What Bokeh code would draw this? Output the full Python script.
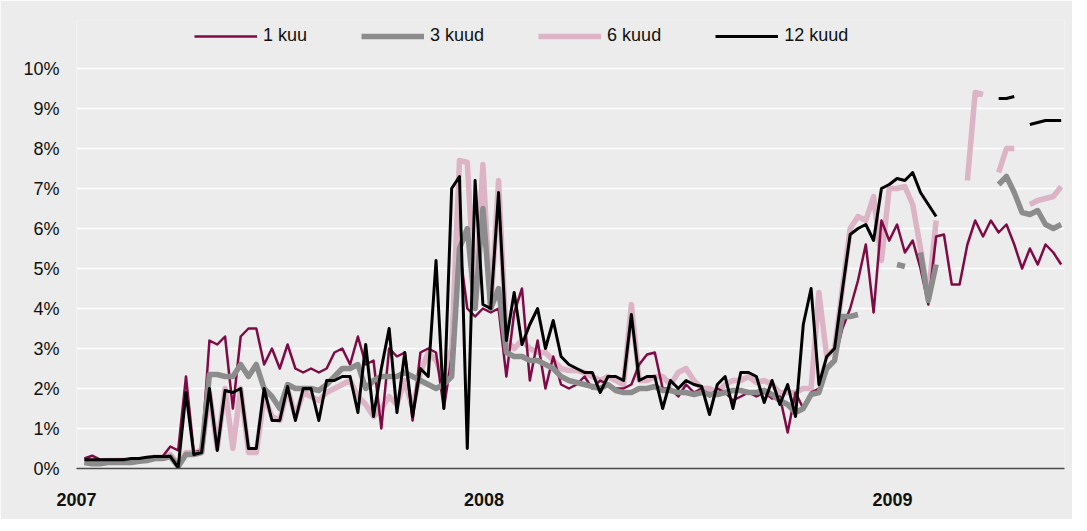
import pandas as pd
from bokeh.plotting import figure
from bokeh.models import (ColumnDataSource, FixedTicker, Legend, LegendItem, Range1d,
                          CustomJSTickFormatter)
from bokeh.embed import file_html
from bokeh.resources import INLINE

nan = float("nan")

dates = pd.date_range("2007-01-08", periods=126, freq="7D")

kuu1 = [0.25, 0.32, 0.22, 0.22, 0.22, 0.23, 0.22, 0.25, 0.25, 0.28,
        0.3, 0.55, 0.45, 2.3, 0.4, 0.45, 3.2, 3.1, 3.3, 1.5,
        3.3, 3.5, 3.5, 2.6, 3.0, 2.5, 3.1, 2.5, 2.4, 2.5,
        2.4, 2.5, 2.9, 3.0, 2.6, 3.3, 2.6, 2.7, 1.0, 3.0,
        2.8, 2.9, 1.2, 2.9, 3.0, 2.9, 1.5, 2.8, 5.5, 4.0,
        3.8, 4.0, 3.9, 4.0, 2.3, 3.9, 4.5, 2.2, 3.2, 2.0,
        2.8, 2.1, 2.0, 2.1, 2.3, 2.0, 2.2, 2.1, 2.0, 2.0,
        2.1, 2.6, 2.85, 2.9, 2.0, 2.0, 1.8, 2.1, 1.9, 2.0,
        1.8, 2.0, 1.9, 1.7, 1.8, 1.9, 1.8, 1.9, 1.75, 1.8,
        0.9, 1.9, 1.5, 1.9, 2.0, 2.5, 2.7, 3.5, 4.0, 4.7,
        5.6, 3.9, 6.2, 5.7, 6.1, 5.4, 5.7, 5.0, 4.1, 5.8,
        5.85, 4.6, 4.6, 5.6, 6.2, 5.8, 6.2, 5.9, 6.1, 5.6,
        5.0, 5.5, 5.1, 5.6, 5.4, 5.1]

kuud3 = [0.15, 0.12, 0.12, 0.15, 0.15, 0.15, 0.15, 0.18, 0.2, 0.25,
         0.25, 0.3, 0.05, 0.35, 0.35, 0.4, 2.35, 2.35, 2.3, 2.3,
         2.6, 2.3, 2.6, 2.0, 1.8, 1.5, 2.1, 2.0, 2.0, 2.0,
         1.95, 2.1, 2.3, 2.5, 2.5, 2.6, 2.0, 2.2, 2.3, 2.3,
         2.3, 2.4, 2.3, 2.2, 2.1, 2.0, 2.1, 2.3, 5.5, 6.0,
         4.0, 6.5, 4.0, 4.5, 2.9, 2.8, 2.8, 2.7, 2.7, 2.6,
         2.5, 2.3, 2.2, 2.15, 2.1, 2.05, 2.0, 2.1, 1.95, 1.9,
         1.9, 2.0, 2.0, 2.05, 1.95, 1.95, 1.9, 1.9, 1.85, 1.9,
         1.85, 1.85, 1.9, 1.95, 1.95, 1.9, 1.9, 1.95, 1.85, 1.7,
         1.6, 1.4, 1.5, 1.85, 1.9, 2.5, 2.7, 3.8, 3.8, 3.85,
         nan, nan, nan, nan, 5.1, 5.05, nan, 5.4, 4.2, 5.1,
         nan, nan, nan, nan, nan, nan, nan, 7.1, 7.3, 6.9,
         6.4, 6.35, 6.45, 6.1, 6.0, 6.1]

kuud6 = [0.2, 0.18, 0.18, 0.2, 0.2, 0.2, 0.2, 0.22, 0.25, 0.28,
         0.28, 0.35, 0.1, 0.4, 0.4, 0.45, 1.9, 0.5, 2.0, 0.5,
         2.0, 0.4, 0.4, 1.8, 1.3, 1.2, 2.0, 1.3, 1.9, 1.8,
         1.7, 1.9, 2.0, 2.1, 2.2, 1.8, 1.6, 1.3, 1.5, 1.8,
         1.6, 2.2, 1.5, 2.4, 2.9, 2.7, 2.2, 3.0, 7.7, 7.65,
         4.2, 7.6, 4.0, 7.2, 3.2, 3.0, 3.2, 3.0, 2.9, 2.9,
         2.7, 2.5, 2.45, 2.45, 2.4, 2.3, 2.2, 2.3, 2.2, 2.1,
         4.1, 2.2, 2.2, 2.3, 2.3, 2.1, 2.4, 2.5, 2.2, 2.0,
         2.0, 1.9, 2.1, 2.2, 2.2, 2.3, 2.15, 2.2, 2.1, 1.9,
         1.9, 1.9, 2.0, 2.0, 4.4, 2.8, 3.0, 4.5, 6.0, 6.3,
         6.2, 6.8, 5.2, 7.0, 7.0, 7.05, 6.6, 5.5, 4.3, 6.2,
         nan, nan, nan, 7.2, 9.4, 9.35, nan, 7.4, 8.0, 8.0,
         nan, 6.6, 6.7, 6.75, 6.8, 7.05]

kuud12 = [0.22, 0.22, 0.22, 0.22, 0.22, 0.22, 0.25, 0.25, 0.28, 0.3,
          0.3, 0.3, 0.02, 1.9, 0.35, 0.4, 2.0, 0.45, 1.95, 1.9,
          2.0, 0.5, 0.5, 2.0, 1.2, 1.2, 2.05, 1.2, 2.0, 2.0,
          1.2, 2.2, 2.2, 2.3, 2.3, 1.4, 3.1, 1.3, 2.5, 3.5,
          1.4, 2.9, 1.3, 2.5, 2.3, 5.2, 1.5, 7.0, 7.3, 0.5,
          7.2, 4.1, 4.0, 6.9, 3.2, 4.4, 3.1, 3.6, 4.0, 3.0,
          3.7, 2.8, 2.6, 2.5, 2.4, 2.4, 1.9, 2.3, 2.3, 2.2,
          3.85, 2.2, 2.3, 2.3, 1.5, 2.2, 2.0, 2.2, 2.1, 2.05,
          1.35, 2.1, 2.3, 1.5, 2.4, 2.4, 2.3, 1.65, 2.2, 1.6,
          2.1, 1.3, 3.6, 4.5, 2.1, 2.8, 3.0, 4.45, 5.85, 6.0,
          6.1, 5.7, 7.0, 7.1, 7.25, 7.2, 7.4, 6.9, 6.6, 6.3,
          nan, nan, nan, nan, nan, nan, nan, 9.25, 9.25, 9.3,
          nan, 8.6, 8.65, 8.7, 8.7, 8.7]

series_labels = ["1 kuu", "3 kuud", "6 kuud", "12 kuud"]
series_colors = ["#7f0a46", "#8c8c8c", "#dcb4c6", "#000000"]
year_ticks = ["2007-01-01", "2008-01-01", "2009-01-01"]
pct_ticks = [0, 1, 2, 3, 4, 5, 6, 7, 8, 9, 10]

FONT = "Liberation Sans"
BG = "#ebeceb"

src = ColumnDataSource(dict(date=dates, k1=kuu1, k3=kuud3, k6=kuud6, k12=kuud12))

x_start = pd.Timestamp("2007-01-01") - pd.Timedelta(hours=2)
x_end = pd.Timestamp("2009-06-04")

p = figure(width=1072, height=519, x_axis_type="datetime",
           x_range=Range1d(x_start, x_end), y_range=Range1d(0, 11.2),
           output_backend="svg", toolbar_location=None,
           min_border_left=76, min_border_right=8, min_border_top=20, min_border_bottom=51)
p.background_fill_color = BG
p.border_fill_color = BG
p.outline_line_color = None

# draw order: 6 kuud, 1 kuu, 3 kuud, 12 kuud
r6 = p.line("date", "k6", source=src, color=series_colors[2], line_width=5.5, line_join="round")
r1 = p.line("date", "k1", source=src, color=series_colors[0], line_width=2.5, line_join="round")
r3 = p.line("date", "k3", source=src, color=series_colors[1], line_width=5.5, line_join="round")
r12 = p.line("date", "k12", source=src, color=series_colors[3], line_width=3, line_join="round")

# axes
xa = p.xaxis[0]
xa.ticker = FixedTicker(ticks=[pd.Timestamp(t).value // 10**6 for t in year_ticks])
xa.formatter = CustomJSTickFormatter(code="return String(new Date(tick).getUTCFullYear());")
xa.major_tick_line_color = None
xa.minor_tick_line_color = None
xa.axis_line_color = "#4a4a4a"
xa.axis_line_width = 1.5
xa.major_label_text_font = FONT
xa.major_label_text_font_size = "18px"
xa.major_label_text_font_style = "bold"
xa.major_label_text_color = "#111111"
xa.major_label_standoff = 18

ya = p.yaxis[0]
ya.ticker = FixedTicker(ticks=pct_ticks)
ya.formatter = CustomJSTickFormatter(code="return tick.toFixed(0) + '%';")
ya.major_tick_line_color = None
ya.minor_tick_line_color = None
ya.axis_line_color = None
ya.major_label_text_font = FONT
ya.major_label_text_font_size = "18px"
ya.major_label_text_color = "#111111"
ya.major_label_standoff = 11

p.xgrid.grid_line_color = None
p.ygrid.grid_line_color = "#ffffff"
p.ygrid.grid_line_width = 1.5

legend = Legend(items=[LegendItem(label=series_labels[0], renderers=[r1]),
                       LegendItem(label=series_labels[1], renderers=[r3]),
                       LegendItem(label=series_labels[2], renderers=[r6]),
                       LegendItem(label=series_labels[3], renderers=[r12])],
                orientation="horizontal", location=(118, 422),
                glyph_width=63, glyph_height=20, label_height=20, label_standoff=6,
                spacing=54, padding=0, margin=0,
                background_fill_alpha=0, border_line_alpha=0,
                label_text_font=FONT, label_text_font_size="18px", label_text_color="#111111")
p.add_layout(legend)

open("out.html", "w").write(file_html(p, INLINE))
